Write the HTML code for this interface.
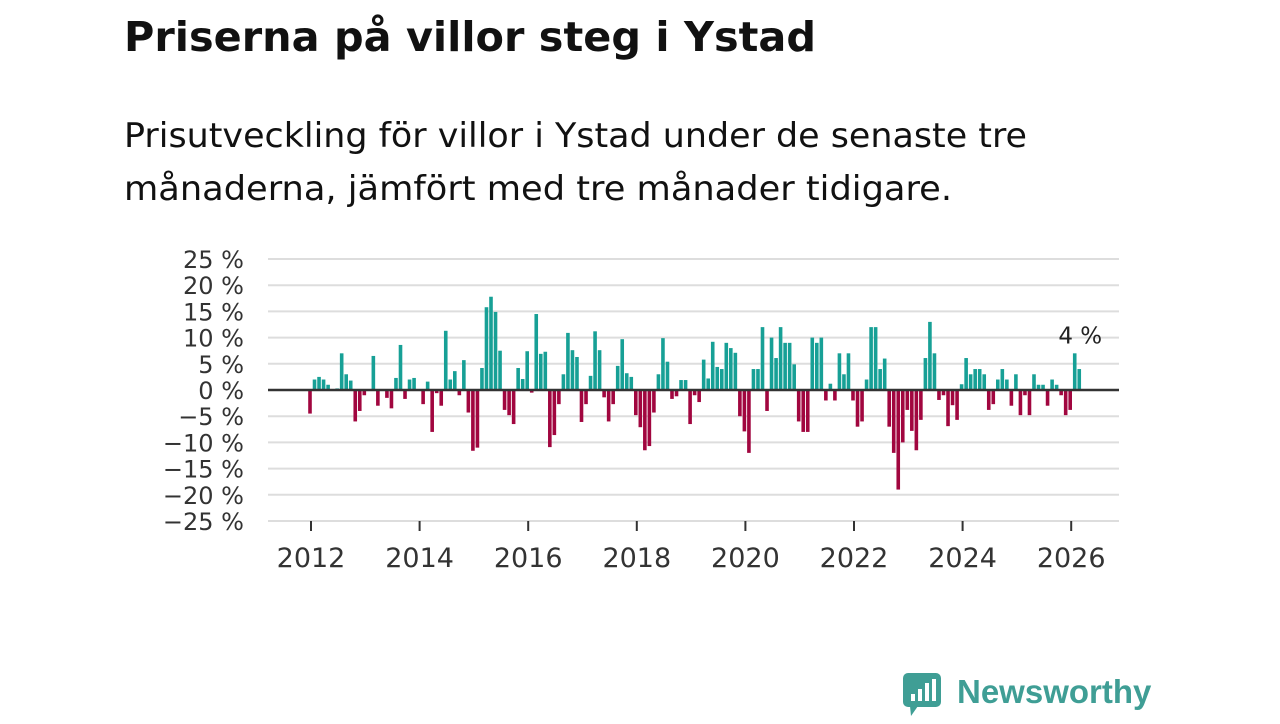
<!DOCTYPE html>
<html><head><meta charset="utf-8"><style>
body{margin:0;background:#fff;width:1280px;height:720px;overflow:hidden;font-family:"DejaVu Sans","Liberation Sans",sans-serif}
</style></head><body>
<svg width="1280" height="720" font-family="DejaVu Sans, Liberation Sans, sans-serif">
<text x="124" y="51" font-size="41" font-weight="bold" fill="#111" textLength="692" lengthAdjust="spacingAndGlyphs">Priserna på villor steg i Ystad</text>
<text x="124" y="147" font-size="34" fill="#111" textLength="903" lengthAdjust="spacingAndGlyphs">Prisutveckling för villor i Ystad under de senaste tre</text>
<text x="124" y="200" font-size="34" fill="#111" textLength="828" lengthAdjust="spacingAndGlyphs">månaderna, jämfört med tre månader tidigare.</text>
<g id="grid"></g><g id="bars"></g><g id="axes"></g>
<g>
<rect x="903" y="673" width="38" height="34" rx="5" fill="#3f9e95"/>
<polygon points="910,706 918,706 911,716" fill="#3f9e95"/>
<rect x="911" y="694" width="4" height="7" fill="#fff"/><rect x="918" y="689" width="4" height="12" fill="#fff"/><rect x="925" y="683" width="4" height="18" fill="#fff"/><rect x="932" y="679" width="4" height="22" fill="#fff"/>
<text x="957" y="703" font-size="33" font-weight="bold" fill="#3f9e95" font-family="Liberation Sans, sans-serif">Newsworthy</text>
</g>
</svg>
<script>
const values=[-4.5,2,2.5,2,1,0,0.3,7,3,1.8,-6,-4,-1,0,6.5,-3,0,-1.5,-3.5,2.3,8.6,-1.7,2,2.3,0,-2.7,1.6,-8,-0.6,-3,11.3,2,3.6,-1,5.7,-4.3,-11.6,-11,4.2,15.8,17.8,14.9,7.5,-3.8,-4.8,-6.5,4.2,2.1,7.4,-0.5,14.5,6.9,7.3,-10.9,-8.6,-2.7,3,10.9,7.6,6.3,-6.1,-2.7,2.7,11.2,7.6,-1.4,-6,-2.7,4.6,9.7,3.2,2.5,-4.8,-7.1,-11.5,-10.7,-4.3,3,9.9,5.4,-1.7,-1.2,1.9,1.9,-6.5,-1,-2.3,5.8,2.2,9.2,4.4,4,9,8,7.1,-5,-7.9,-12,4,4,12,-4,10,6.1,12,9,9,4.9,-6,-8,-8,10,9,10,-2,1.2,-2,7,3,7,-2,-7,-6,2,12,12,4,6,-7,-12,-19,-10,-3.8,-7.8,-11.5,-5.7,6.1,13,7,-1.9,-1,-6.9,-2.9,-5.7,1.1,6.1,3,4,4,3,-3.8,-2.7,2,4,2,-3,3,-4.8,-1,-4.8,3,1,1,-3,2,1,-1,-4.8,-3.8,7,4];
const startYear=2012;
const yTicks=[25,20,15,10,5,0,-5,-10,-15,-20,-25];
const xTicks=[2012,2014,2016,2018,2020,2022,2024,2026];
const lastLabel="4 %";
const NS="http://www.w3.org/2000/svg";
const y=v=>390-v*5.24;
const x=t=>311+(t-2012)*54.3;
function mk(tag,attrs,parent){const e=document.createElementNS(NS,tag);for(const k in attrs)e.setAttribute(k,attrs[k]);document.getElementById(parent).appendChild(e);return e;}
yTicks.forEach(v=>{
  const l=mk('line',{x1:268,x2:1119,y1:y(v),y2:y(v),stroke:v===0?'#333':'#ddd','stroke-width':v===0?2.5:2},v===0?'axes':'grid');
  
  
  const t=mk('text',{x:244,y:y(v)+9,'text-anchor':'end','font-size':24,fill:'#333'},'axes');
  t.textContent=(v<0?'−'+(-v):v)+' %';
  
  
});
xTicks.forEach(yr=>{
  const l=mk('line',{x1:x(yr),x2:x(yr),y1:521,y2:531,stroke:'#333','stroke-width':2},'axes');
  
  
  const t=mk('text',{x:x(yr),y:567,'text-anchor':'middle','font-size':27,fill:'#333'},'axes');
  t.textContent=yr;
  
  
});
values.forEach((v,i)=>{
  const cx=x(startYear+i/12)-1;
  const r=mk('rect',{x:cx-1.8,width:3.6,y:Math.min(y(v),390),height:Math.abs(y(v)-390),fill:v>=0?'#17a096':'#a1063f'},'bars');
  
  
});
const li=values.length-1;
const lt=mk('text',{x:x(startYear+li/12),y:y(values[li-1])-10,'text-anchor':'middle','font-size':23,fill:'#222'},'axes');
lt.textContent=lastLabel;


</script>
</body></html>
